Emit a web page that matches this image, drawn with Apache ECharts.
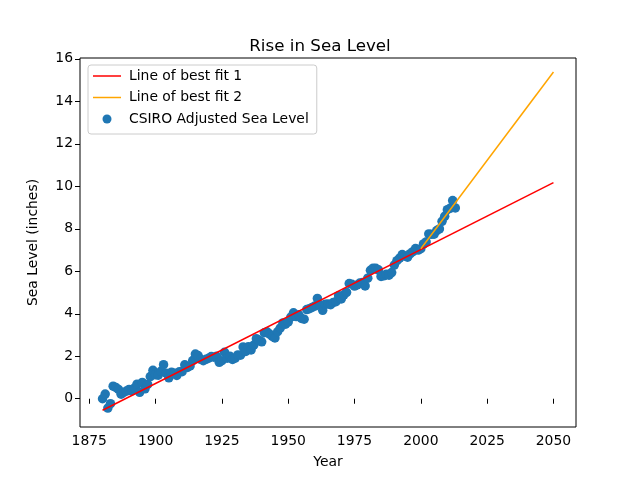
<!DOCTYPE html>
<html>
<head>
<meta charset="utf-8">
<script src="https://cdn.jsdelivr.net/npm/echarts@6/dist/echarts.min.js"></script>
<style>html,body{margin:0;padding:0;background:#fff}#c{width:640px;height:480px}</style>
</head>
<body>
<div id="c"></div>
<script>
const years = [];
for (let y = 1880; y <= 2013; y++) years.push(y);
const seaLevel = [
  0.000, 0.220, -0.441, -0.232, 0.591, 0.531, 0.437, 0.217, 0.299, 0.362,
  0.441, 0.374, 0.500, 0.685, 0.303, 0.768, 0.469, 0.673, 1.043, 1.339,
  1.126, 1.110, 1.291, 1.606, 1.201, 0.984, 1.252, 1.197, 1.098, 1.275,
  1.272, 1.598, 1.476, 1.547, 1.795, 2.106, 2.031, 1.854, 1.791, 1.854,
  1.906, 1.988, 1.953, 2.000, 1.713, 1.791, 2.189, 1.906, 2.004, 1.850,
  1.906, 2.063, 2.047, 2.441, 2.228, 2.449, 2.295, 2.520, 2.827, 2.756,
  2.681, 3.106, 3.150, 3.047, 2.933, 2.862, 3.154, 3.331, 3.567, 3.512,
  3.618, 3.846, 4.043, 3.870, 3.953, 3.780, 3.748, 4.197, 4.240, 4.299,
  4.362, 4.720, 4.417, 4.161, 4.453, 4.461, 4.429, 4.535, 4.571, 4.854,
  4.697, 4.890, 5.004, 5.425, 5.390, 5.303, 5.354, 5.445, 5.469, 5.311,
  5.673, 6.043, 6.146, 6.138, 6.071, 5.756, 5.787, 5.866, 5.819, 5.941,
  6.291, 6.500, 6.618, 6.787, 6.720, 6.665, 6.831, 6.921, 7.067, 7.000,
  7.063, 7.287, 7.382, 7.760, 7.740, 7.744, 7.917, 7.996, 8.350, 8.587,
  8.902, 8.965, 9.327, 8.980
];
const fit1Years = [1880, 2050];
const fit1Values = [-0.542, 10.175];
const fit2Years = [2000, 2050];
const fit2Values = [7.063, 15.382];
const xTicks = [1875, 1900, 1925, 1950, 1975, 2000, 2025, 2050];
const yTicks = [0, 2, 4, 6, 8, 10, 12, 14, 16];

const font = 'DejaVu Sans';
const lineIcon = 'path://M0,0L28,0L28,1.5L0,1.5Z';
const chart = echarts.init(document.getElementById('c'), null, {renderer: 'canvas'});
chart.setOption({
  animation: false,
  backgroundColor: '#ffffff',
  title: {
    text: 'Rise in Sea Level', left: 'center', top: 33,
    textStyle: {fontFamily: font, fontSize: 16.7, fontWeight: 'normal', color: '#000'}
  },
  grid: {left: 80, right: 64, top: 58, bottom: 53, show: true, borderColor: '#000', borderWidth: 1, backgroundColor: 'transparent'},
  legend: {
    orient: 'vertical', left: 88, top: 65,
    data: [
      {name: 'Line of best fit 1', icon: lineIcon},
      {name: 'Line of best fit 2', icon: lineIcon},
      {name: 'CSIRO Adjusted Sea Level', icon: 'circle'}
    ],
    symbolKeepAspect: true,
    itemWidth: 28, itemHeight: 9, itemGap: 5.5,
    padding: [3, 8, 7, 5],
    borderColor: '#cccccc', borderWidth: 1, borderRadius: 3,
    backgroundColor: 'rgba(255,255,255,0.8)',
    textStyle: {fontFamily: font, fontSize: 13.9, color: '#000', padding: [0, 0, 0, 3], lineHeight: 16}
  },
  xAxis: {
    type: 'value', min: 1871.5, max: 2058.5,
    name: 'Year', nameLocation: 'middle', nameGap: 28,
    nameTextStyle: {fontFamily: font, fontSize: 13.9, color: '#000'},
    splitLine: {show: false},
    axisLine: {show: false},
    axisTick: {show: true, length: 5, inside: false, customValues: xTicks, lineStyle: {color: '#000'}},
    axisLabel: {customValues: xTicks, fontFamily: font, fontSize: 13.9, color: '#000', margin: 7, formatter: v => String(v)}
  },
  yAxis: {
    type: 'value', min: -1.33, max: 16.04,
    name: 'Sea Level (inches)', nameLocation: 'middle', nameGap: 40, nameRotate: 90,
    nameTextStyle: {fontFamily: font, fontSize: 13.9, color: '#000'},
    splitLine: {show: false},
    axisLine: {show: false},
    axisTick: {show: true, length: 5, inside: false, customValues: yTicks, lineStyle: {color: '#000'}},
    axisLabel: {customValues: yTicks, fontFamily: font, fontSize: 13.9, color: '#000', margin: 7, formatter: v => String(v)}
  },
  series: [
    {
      name: 'CSIRO Adjusted Sea Level', type: 'scatter', z: 2,
      symbol: 'circle', symbolSize: 9.5,
      itemStyle: {color: '#1f77b4', opacity: 1},
      data: years.map((y, i) => [y, seaLevel[i]])
    },
    {
      name: 'Line of best fit 1', type: 'line', z: 3, showSymbol: false, symbol: 'none',
      lineStyle: {color: 'red', width: 1.5}, itemStyle: {color: 'red'},
      data: fit1Years.map((y, i) => [y, fit1Values[i]])
    },
    {
      name: 'Line of best fit 2', type: 'line', z: 4, showSymbol: false, symbol: 'none',
      lineStyle: {color: 'orange', width: 1.5}, itemStyle: {color: 'orange'},
      data: fit2Years.map((y, i) => [y, fit2Values[i]])
    }
  ]
});
</script>
</body>
</html>
